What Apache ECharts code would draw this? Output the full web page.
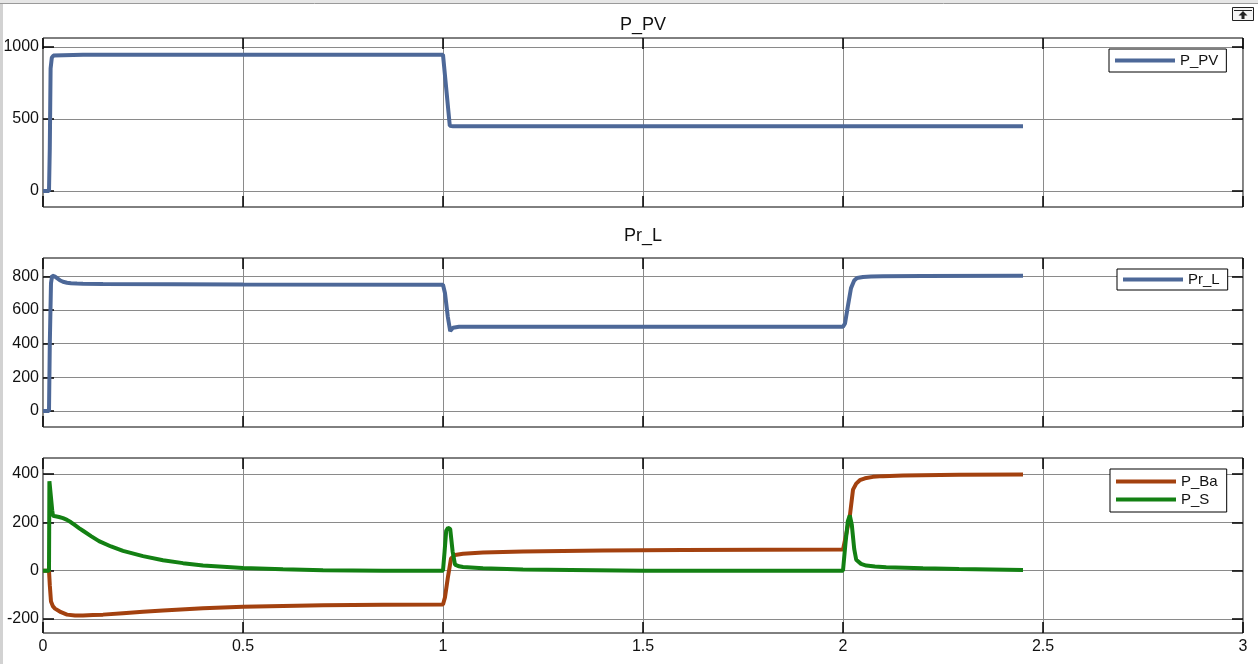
<!DOCTYPE html>
<html>
<head>
<meta charset="utf-8">
<script src="https://cdn.jsdelivr.net/npm/echarts@6/dist/echarts.min.js"></script>
<style>html,body{margin:0;padding:0;background:#fff;}#c{width:1258px;height:664px;}</style>
</head>
<body>
<div id="c"></div>
<script>
// ---- Data ----
const xTicks = [0, 0.5, 1, 1.5, 2, 2.5, 3];

const tPV = [0, 0.015, 0.017, 0.019, 0.022, 0.026, 0.03, 0.1, 0.5, 1.0, 1.003, 1.017, 1.025, 1.5, 2.0, 2.45];
const vPV = [0, 0, 300, 850, 925, 940, 945, 946, 946, 946, 940, 452, 449, 449, 449, 449];

const tPrL = [0, 0.015, 0.017, 0.02, 0.023, 0.026, 0.03, 0.035, 0.042, 0.05, 0.06, 0.07, 0.085, 0.1, 0.15, 0.5, 1.0, 1.005, 1.012, 1.018, 1.025, 1.04, 1.5, 2.0, 2.005, 2.012, 2.02, 2.028, 2.035, 2.05, 2.07, 2.1, 2.2, 2.45];
const vPrL = [0, 0, 400, 760, 805, 810, 798, 788, 777, 768, 762, 759, 757, 756, 755, 752, 750, 700, 560, 475, 495, 500, 500, 500, 520, 620, 730, 775, 790, 796, 799, 800, 802, 803];

const tBa = [0, 0.015, 0.017, 0.02, 0.025, 0.03, 0.035, 0.045, 0.06, 0.08, 0.1, 0.125, 0.15, 0.2, 0.25, 0.3, 0.4, 0.5, 0.6, 0.7, 0.85, 1.0, 1.005, 1.012, 1.02, 1.03, 1.05, 1.1, 1.2, 1.4, 1.6, 2.0, 2.008, 2.017, 2.025, 2.033, 2.042, 2.055, 2.075, 2.1, 2.15, 2.29, 2.45];
const vBa = [0, 0, -60, -128, -148, -157, -163, -172, -182, -186, -186, -184, -182, -176, -170, -165, -156, -149, -146, -143, -141, -140, -110, -30, 50, 65, 70, 75, 79, 83, 85, 87, 150, 225, 335, 360, 374, 382, 388, 391, 394, 397, 398];

const tS = [0, 0.015, 0.016, 0.021, 0.023, 0.025, 0.04, 0.05, 0.06, 0.07, 0.08, 0.09, 0.1, 0.12, 0.14, 0.17, 0.2, 0.25, 0.3, 0.35, 0.4, 0.5, 0.6, 0.7, 0.85, 1.0, 1.004, 1.008, 1.0125, 1.018, 1.024, 1.03, 1.04, 1.05, 1.1, 1.2, 1.5, 2.0, 2.006, 2.012, 2.017, 2.022, 2.028, 2.033, 2.045, 2.058, 2.08, 2.108, 2.2, 2.29, 2.45];
const vS = [0, 0, 370, 378, 250, 227, 222, 217, 210, 200, 188, 176, 165, 143, 122, 100, 82, 60, 43, 31, 21, 11, 6, 2, 0, 0, 80, 165, 177, 172, 80, 25, 18, 15, 10, 5, 0, 0, 110, 205, 228, 190, 90, 45, 28, 21, 17, 14, 10, 7, 3];

const yTicksPV = [0, 500, 1000];
const yTicksPrL = [0, 200, 400, 600, 800];
const yTicksBot = [-200, 0, 200, 400];

const titles = ['P_PV', 'Pr_L'];
const names = ['P_PV', 'Pr_L', 'P_Ba', 'P_S'];

// ---- Build ----
const zip = (t, v) => t.map((x, i) => [x, v[i]]);
const C_BLUE = '#4d6898', C_BROWN = '#a3410f', C_GREEN = '#138013';
const FONT = '"Liberation Sans", Arial, sans-serif';
const TXT = '#111';

const grids = [
  {left: 43, top: 38, width: 1200, height: 169},
  {left: 43, top: 258, width: 1200, height: 169},
  {left: 43, top: 458, width: 1200, height: 175}
].map(g => Object.assign(g, {show: true, borderColor: '#000', borderWidth: 1, backgroundColor: '#fff'}));

const yRanges = [[-111, 1062, yTicksPV], [-95, 909, yTicksPrL], [-258, 466, yTicksBot]];

const tickStyle = {show: true, inside: true, length: 11, lineStyle: {color: '#000', width: 1.5}};
const xAxis = [], yAxis = [];
for (let g = 0; g < 3; g++) {
  xAxis.push({
    type: 'value', gridIndex: g, min: 0, max: 3, interval: 0.5, position: 'bottom',
    axisLine: {show: false, onZero: false},
    axisTick: tickStyle,
    axisLabel: {show: g === 2, fontSize: 16, color: TXT, fontFamily: FONT, margin: 6,
      formatter: v => String(v)},
    splitLine: {show: true, lineStyle: {color: '#8a8a8a', width: 1}}
  });
  xAxis.push({
    type: 'value', gridIndex: g, min: 0, max: 3, interval: 0.5, position: 'top',
    axisLine: {show: false, onZero: false},
    axisTick: tickStyle,
    axisLabel: {show: false}, splitLine: {show: false}
  });
  const [mn, mx, tk] = yRanges[g];
  yAxis.push({
    type: 'value', gridIndex: g, min: mn, max: mx, position: 'left',
    axisLine: {show: false, onZero: false},
    axisTick: Object.assign({}, tickStyle, {customValues: tk}),
    axisLabel: {show: true, customValues: tk, fontSize: 16, color: TXT, fontFamily: FONT, margin: 4,
      formatter: v => String(v)},
    splitLine: {show: true, lineStyle: {color: '#8a8a8a', width: 1}}
  });
  yAxis.push({
    type: 'value', gridIndex: g, min: mn, max: mx, position: 'right',
    axisLine: {show: false, onZero: false},
    axisTick: Object.assign({}, tickStyle, {customValues: tk}),
    axisLabel: {show: false}, splitLine: {show: false}
  });
}

function line(name, data, color, grid) {
  return {
    name, type: 'line', data, xAxisIndex: grid * 2, yAxisIndex: grid * 2,
    showSymbol: false, symbol: 'none', smooth: false, animation: false,
    color, lineStyle: {color, width: 4}
  };
}

const legendBase = {
  orient: 'vertical', icon: 'rect', itemWidth: 60, itemHeight: 4, itemGap: 3,
  borderColor: '#000', borderWidth: 1, backgroundColor: '#fff', borderRadius: 0,
  textStyle: {fontSize: 15, color: TXT, fontFamily: FONT},
  selectedMode: false
};

const option = {
  animation: false,
  backgroundColor: '#fff',
  title: [
    {text: titles[0], left: 643, top: 16, textAlign: 'center', padding: 0,
      textStyle: {fontSize: 18, fontWeight: 'normal', color: TXT, fontFamily: FONT}},
    {text: titles[1], left: 643, top: 227, textAlign: 'center', padding: 0,
      textStyle: {fontSize: 18, fontWeight: 'normal', color: TXT, fontFamily: FONT}}
  ],
  legend: [
    Object.assign({}, legendBase, {data: [names[0]], left: 1109, top: 49, padding: [4, 8, 4, 6]}),
    Object.assign({}, legendBase, {data: [names[1]], left: 1117, top: 269, padding: [3, 8, 3, 6]}),
    Object.assign({}, legendBase, {data: [names[2], names[3]], left: 1110, top: 469, padding: [5, 9, 5, 6]})
  ],
  grid: grids,
  xAxis, yAxis,
  series: [
    line(names[0], zip(tPV, vPV), C_BLUE, 0),
    line(names[1], zip(tPrL, vPrL), C_BLUE, 1),
    line(names[2], zip(tBa, vBa), C_BROWN, 2),
    line(names[3], zip(tS, vS), C_GREEN, 2)
  ],
  graphic: [
    {type: 'rect', left: 0, top: 0, shape: {width: 1258, height: 3}, style: {fill: '#e6e6e6'}, silent: true},
    {type: 'line', shape: {x1: 0, y1: 3.5, x2: 1258, y2: 3.5}, style: {stroke: '#9a9a9a', lineWidth: 1}, silent: true},
    {type: 'rect', left: 0, top: 4, shape: {width: 3, height: 660}, style: {fill: '#d2d2d2'}, silent: true},
    {type: 'rect', shape: {x: 1232.5, y: 7.5, width: 21, height: 13}, style: {fill: '#f4f4f4', stroke: '#222', lineWidth: 1}, silent: true},
    {type: 'line', shape: {x1: 1234, y1: 10.5, x2: 1252, y2: 10.5}, style: {stroke: '#222', lineWidth: 1}, silent: true},
    {type: 'polygon', shape: {points: [[1243, 11], [1238.5, 15.5], [1241.5, 15.5], [1241.5, 19], [1244.5, 19], [1244.5, 15.5], [1247.5, 15.5]]}, style: {fill: '#222'}, silent: true}
  ]
};

const chart = echarts.init(document.getElementById('c'), null, {renderer: 'canvas'});
chart.setOption(option);
</script>
</body>
</html>
